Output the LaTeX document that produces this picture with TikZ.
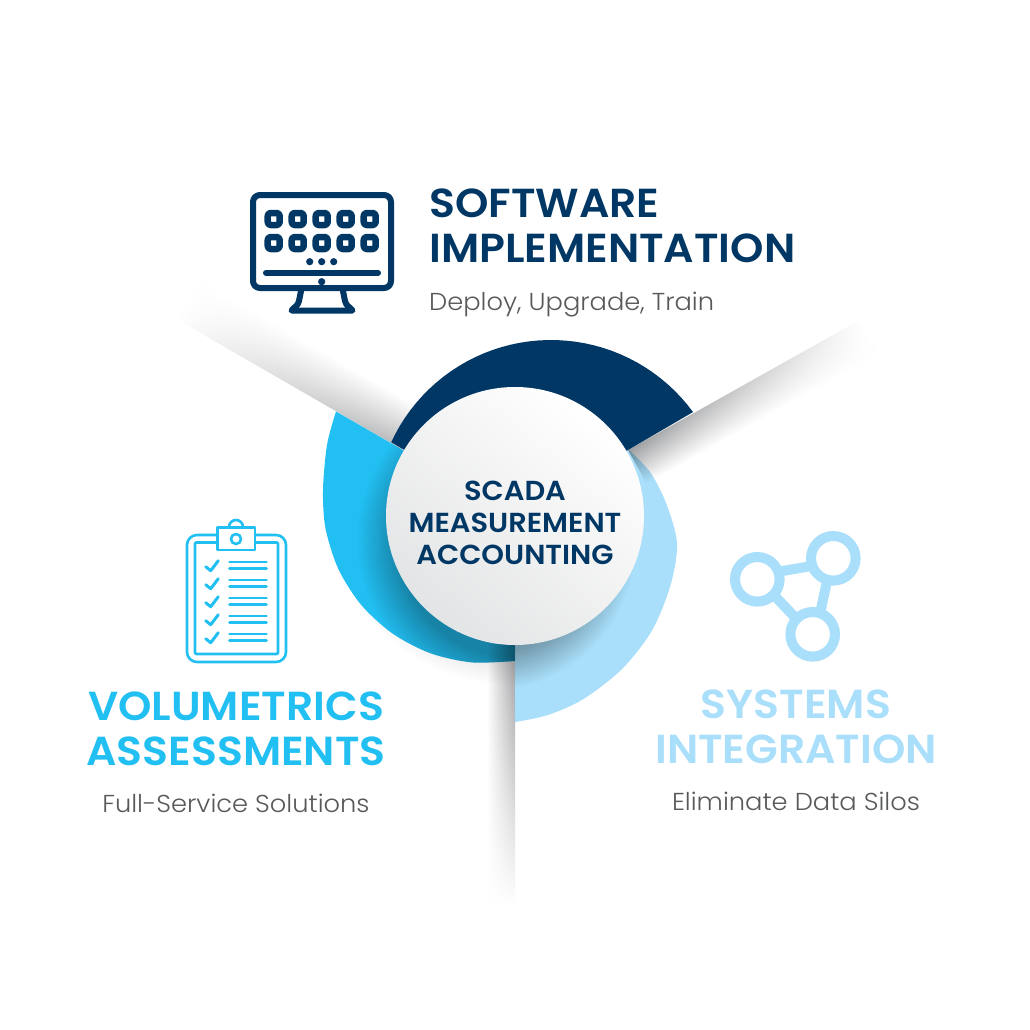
\documentclass[tikz,border=0pt]{standalone}
\usepackage{fontspec}
\setmainfont{Poppins}[BoldFont=Poppins SemiBold, FakeStretch=1.05]
\newfontfamily\lightfont{Poppins Light}[FakeStretch=1.05]
\usetikzlibrary{fadings}
\definecolor{navy}{HTML}{003764}
\definecolor{skyblue}{HTML}{22BFF2}
\definecolor{paleblue}{HTML}{A9DFFA}
\definecolor{subgrey}{HTML}{58595B}
\definecolor{hubgrey}{HTML}{E3E4E5}
\definecolor{bandgrey}{HTML}{9D9EA0}
\definecolor{shadowgrey}{HTML}{B0B0B0}
\pgfdeclareradialshading{hubshadow}{\pgfpointorigin}{color(0bp)=(shadowgrey); color(18.5bp)=(shadowgrey); color(25bp)=(white); color(50bp)=(white)}
\pgfdeclareradialshading{arcglow}{\pgfpointorigin}{color(0bp)=(black!10); color(21bp)=(black!10); color(25bp)=(white); color(50bp)=(white)}
\tikzfading[name=bandfade, left color=transparent!0, middle color=transparent!20, right color=transparent!100]
\tikzset{
  heading/.style={font=\fontsize{40.5}{45}\selectfont\bfseries, align=center, inner sep=0pt},
  subtext/.style={font=\lightfont\fontsize{24.5}{28}\selectfont, text=subgrey, inner sep=0pt},
  band/.style={top color=bandgrey, bottom color=white, path fading=bandfade, fit fading=true},
  monitorline/.style={draw=navy, line width=6pt, line cap=round, line join=round},
  clipline/.style={draw=skyblue, line width=2.6pt, line cap=round, line join=round},
  netnode/.style={circle, draw=paleblue, line width=10pt, fill=white, minimum size=44.6pt, inner sep=0pt},
  netline/.style={draw=paleblue, line width=10pt, shorten <=-4pt, shorten >=-4pt}
}
\def\bluearc{plot[smooth] coordinates {(336,411.5) (327,445) (323,490) (325.5,528.3) (338.3,568.9) (361.1,604.8) (392.5,633.5) (430.3,653.2) (471.8,662.4) (515,661)} -- (515,516) -- (402,449.5) -- cycle}
\def\palearc{plot[smooth] coordinates {(629,450) (650,472) (666,503) (677,543) (670.6,585) (652,630.5) (622,669) (583.5,699) (548,715) (515,722)} -- (515,516) -- cycle}
\begin{document}
\begin{tikzpicture}[x=1pt,y=-1pt]
    \useasboundingbox (0,0) rectangle (1030,1030);
    \fill[white] (0,0) rectangle (1030,1030);
    % shadows lying on the white ground
    \begin{scope}[blend mode=multiply]
        \path[clip] (300,500) rectangle (515,720);
        \shade[shading=arcglow] (510,500) circle (185);
    \end{scope}
    \begin{scope}[blend mode=multiply]
        \shade[band, top color=bandgrey!75!white, transform canvas={shift={(402,449.3)},rotate=150}] (0,0) rectangle (260,45);
    \end{scope}
    % ring
    \fill[skyblue] \bluearc;
    \begin{scope}[blend mode=multiply]
        \shade[band, transform canvas={shift={(515,645)},rotate=-90}] (0,0) rectangle (260,28);
    \end{scope}
    \fill[paleblue] \palearc;
    \begin{scope}[blend mode=multiply]
        \shade[band, transform canvas={shift={(628,450)},rotate=29.3}] (0,0) rectangle (266,38);
    \end{scope}
    \fill[navy] plot[domain=204.8:323.8,samples=40] ({551+176*cos(\x)},{516+176*sin(\x)}) -- (628,450) -- (515,516) -- cycle;
    % shadow of the hub on the ring
    \begin{scope}[blend mode=multiply]
        \path[clip] \bluearc;
        \shade[shading=hubshadow] (515,540) circle (158);
    \end{scope}
    \begin{scope}[blend mode=multiply]
        \path[clip] \palearc;
        \shade[shading=hubshadow] (490,545) circle (145);
    \end{scope}
    \node[circle, minimum size=258pt, inner sep=0pt, top color=white, middle color=white, bottom color=hubgrey, shading angle=-40] (hub) at (515,516) {};
    \node[font=\fontsize{27.5}{32}\selectfont\bfseries, text=navy, align=center, inner sep=0pt] (hublabel) at (515,523) {SCADA\\MEASUREMENT\\ACCOUNTING};
    % texts
    \node[heading, text=navy, align=left, anchor=west] (softlabel) at (429,226) {SOFTWARE\\IMPLEMENTATION};
    \node[subtext, anchor=base west] (softsub) at (429,310) {Deploy, Upgrade, Train};
    \node[heading, text=skyblue] (volumelabel) at (236,729) {VOLUMETRICS\\ASSESSMENTS};
    \node[subtext, anchor=base] (volumesub) at (236,812) {Full-Service Solutions};
    \node[heading, text=paleblue] (systemlabel) at (796,727) {SYSTEMS\\INTEGRATION};
    \node[subtext, anchor=base] (systemsub) at (796,810) {Eliminate Data Silos};
    % monitor
    \draw[monitorline, rounded corners=7pt] (253,195) rectangle (391,288);
    \foreach \col in {273.7,297.7,321.7,345.7,369.7}
        \foreach \row in {219,243}
            \draw[monitorline, line width=6.5pt, rounded corners=3pt] (\col-6,\row-6) rectangle (\col+6,\row+6);
    \foreach \col in {309.7,321.7,333.7}
        \fill[navy] (\col,261.7) circle (3.6);
    \draw[monitorline] (266,272.7) -- (378,272.7);
    \fill[navy] (321.7,281.7) circle (3.6);
    \draw[monitorline] (301,291) -- (299,301) .. controls (298,306) and (294,307) .. (291.5,310.5) -- (352.5,310.5) .. controls (350,307) and (346,306) .. (345,301) -- (343,291);
    % clipboard
    \draw[clipline, rounded corners=10pt] (187,535) rectangle (286,662);
    \draw[clipline, rounded corners=1pt] (195,542.5) rectangle (278,654);
    \draw[clipline] (236,527) circle (7);
    \draw[clipline, fill=white] (217.7,527.3) rectangle (255,550);
    \draw[clipline] (236,539) circle (5);
    \foreach \row in {0,...,4} {
        \draw[clipline, line width=3pt] (205.7,566.7+18*\row) -- (210.7,570.7+18*\row) -- (218.3,560.7+18*\row);
        \draw[clipline] (229.5,562+18*\row) -- (266.5,562+18*\row);
        \draw[clipline] (229.5,568.3+18*\row) -- (266.5,568.3+18*\row);
    }
    % network
    \node[netnode] (netleft) at (757.3,579.3) {};
    \node[netnode] (netright) at (833.3,558.3) {};
    \node[netnode] (netlow) at (812.7,634.3) {};
    \draw[netline] (netleft.18) -- (netright.198);
    \draw[netline] (netleft.-44) -- (netlow.136);
    \draw[netline] (netright.-105) -- (netlow.72);
\end{tikzpicture}
\end{document}
